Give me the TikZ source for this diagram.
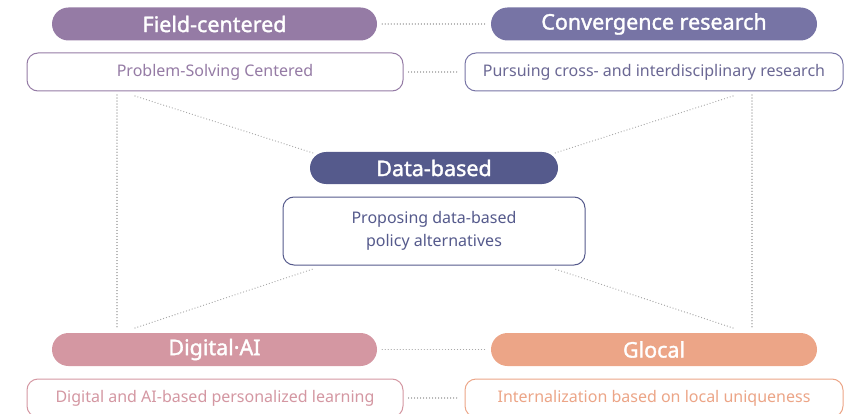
\documentclass[tikz,border=0pt]{standalone}
\usepackage{fontspec}
\setmainfont{Noto Sans}
\newfontfamily\pillfont[FakeBold=1.6]{Noto Sans}
\definecolor{cField}{HTML}{957BA5}
\definecolor{cConv}{HTML}{7774A5}
\definecolor{cData}{HTML}{555A8C}
\definecolor{cDig}{HTML}{D497A2}
\definecolor{cGlo}{HTML}{ECA587}
\definecolor{cDot}{HTML}{A8A8A8}
\begin{document}
\begin{tikzpicture}[x=1pt,y=-1pt,
  pill/.style={rectangle, rounded corners=16.5pt, minimum height=33pt, inner sep=0pt,
    text=white, font=\pillfont\fontsize{21.5}{24}\selectfont},
  desc/.style={rectangle, rounded corners=11pt, draw, line width=1pt, fill=white,
    minimum height=38pt, inner sep=0pt, font=\fontsize{16}{23.5}\selectfont, align=center},
  dotline/.style={cDot, line width=1.3pt, dash pattern=on 0.01pt off 3pt, line cap=round}]
\useasboundingbox (0,0) rectangle (850,414);
\clip (0,0) rectangle (850,414);
% pills
\node[pill, fill=cField, minimum width=325pt] (field) at (214.5,24) {Field-centered};
\node[pill, fill=cConv, minimum width=326pt] (conv) at (654,24) {Convergence research};
\node[pill, fill=cData, minimum width=248pt, minimum height=32pt, rounded corners=16pt] (data) at (434,168) {Data-based};
\node[pill, fill=cDig, minimum width=325pt] (dig) at (214.5,349.5) {Digital·AI};
\node[pill, fill=cGlo, minimum width=326pt] (glo) at (654,349.5) {Glocal};
% descriptions
\node[desc, draw=cField, text=cField, minimum width=376pt] (prob) at (215,72) {Problem-Solving Centered};
\node[desc, draw=cConv, text=cConv!90!black, minimum width=378pt] (purs) at (654,72) {Pursuing cross- and interdisciplinary research};
\node[desc, draw=cData, text=cData, minimum width=302pt, minimum height=68pt] (prop) at (434,231) {Proposing data-based\\policy alternatives};
\node[desc, draw=cDig, text=cDig, minimum width=376pt] (digd) at (215,398) {Digital and AI-based personalized learning};
\node[desc, draw=cGlo, text=cGlo, minimum width=378pt] (glod) at (654,398) {Internalization based on local uniqueness};
% free ends
\coordinate (lt) at (117,95);
\coordinate (lb) at (117,328);
\coordinate (rt) at (752,95);
\coordinate (rb) at (752,328);
\coordinate (ult) at (135,96);
\coordinate (ulb) at (313,153);
\coordinate (urt) at (733,96);
\coordinate (urb) at (555,153);
\coordinate (llb) at (135,328);
\coordinate (llt) at (313,269);
\coordinate (lrb) at (733,328);
\coordinate (lrt) at (555,269);
% connectors
\draw[dotline] ([xshift=5pt]field.east) -- ([xshift=-5pt]conv.west);
\draw[dotline] ([xshift=5pt]prob.east) -- ([xshift=-5pt]purs.west);
\draw[dotline] ([xshift=5pt]dig.east) -- ([xshift=-5pt]glo.west);
\draw[dotline] ([xshift=5pt]digd.east) -- ([xshift=-5pt]glod.west);
\draw[dotline] (lt) -- (lb);
\draw[dotline] (rt) -- (rb);
\draw[dotline] (ult) -- (ulb);
\draw[dotline] (urt) -- (urb);
\draw[dotline] (llb) -- (llt);
\draw[dotline] (lrb) -- (lrt);
\end{tikzpicture}
\end{document}
